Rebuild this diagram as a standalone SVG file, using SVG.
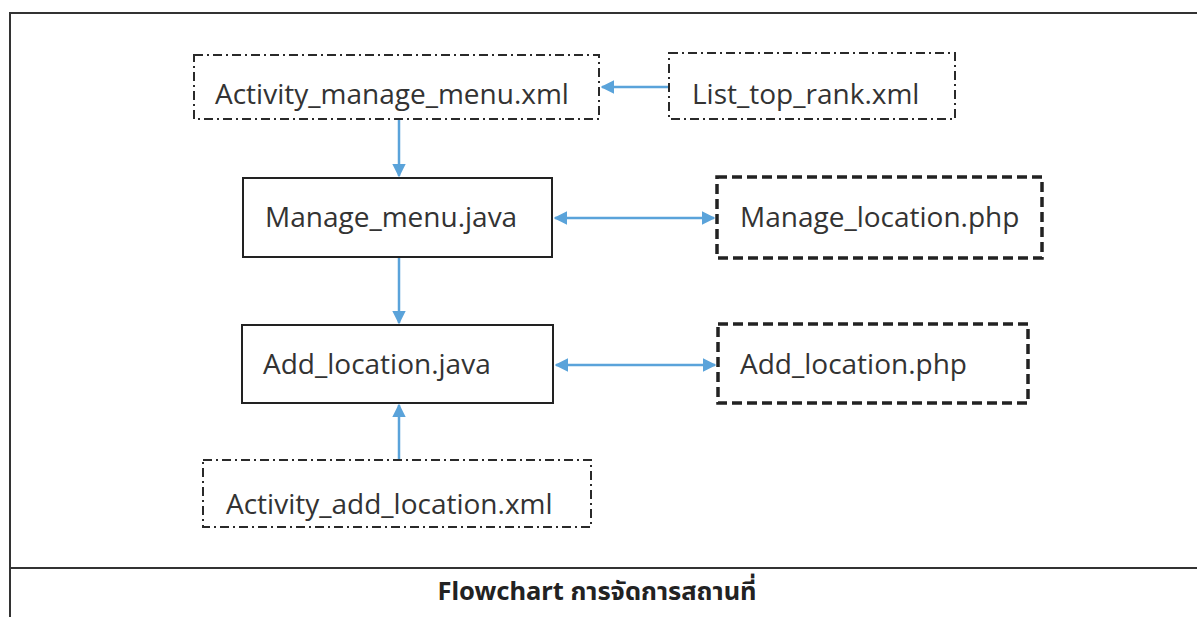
<svg xmlns="http://www.w3.org/2000/svg" width="1197" height="617" viewBox="0 0 1197 617">
<style>
.t{font-family:"Open Sans","Noto Sans",sans-serif;font-size:28px;fill:#333}
.dd{fill:none;stroke:#2a2a2a;stroke-width:2;stroke-dasharray:9 4 2 4}
.solid{fill:none;stroke:#222;stroke-width:2}
.dash{fill:none;stroke:#222;stroke-width:3.5;stroke-dasharray:10 5}
.c{stroke:#5aa3da;stroke-width:2.5;fill:none}
.title{font-family:"Noto Sans","Noto Sans Thai","Liberation Sans",sans-serif;font-size:25.5px;font-weight:bold;fill:#222}
</style>
<defs>
<marker id="ah" viewBox="0 0 10 10" refX="9" refY="5" markerWidth="5.5" markerHeight="5.5" orient="auto-start-reverse" markerUnits="strokeWidth">
<path d="M0,0 L10,5 L0,10 z" fill="#5aa3da"/>
</marker>
</defs>
<rect width="1197" height="617" fill="#fff"/>
<g id="frame">
<rect x="10" y="13" width="1200" height="620" fill="none" stroke="#333" stroke-width="2"/>
<line x1="10" y1="568" x2="1197" y2="568" stroke="#333" stroke-width="2"/>
</g>
<g id="connectors">
<line class="c" x1="669" y1="87" x2="602" y2="87" marker-end="url(#ah)"/>
<line class="c" x1="399" y1="120" x2="399" y2="176" marker-end="url(#ah)"/>
<line class="c" x1="555" y1="218" x2="714" y2="218" marker-start="url(#ah)" marker-end="url(#ah)"/>
<line class="c" x1="399" y1="258" x2="399" y2="323" marker-end="url(#ah)"/>
<line class="c" x1="556" y1="365" x2="715" y2="365" marker-start="url(#ah)" marker-end="url(#ah)"/>
<line class="c" x1="399" y1="460" x2="399" y2="405" marker-end="url(#ah)"/>
</g>
<g id="activity_manage_menu">
<rect class="dd" x="194" y="55" width="405" height="64"/>
<text class="t" x="215" y="104">Activity_manage_menu.xml</text>
</g>
<g id="list_top_rank">
<rect class="dd" x="669" y="53" width="286" height="66"/>
<text class="t" x="692" y="104">List_top_rank.xml</text>
</g>
<g id="manage_menu">
<rect class="solid" x="243" y="178" width="309" height="79"/>
<text class="t" x="265" y="227">Manage_menu.java</text>
</g>
<g id="manage_location">
<rect class="dash" x="717" y="177" width="325" height="81"/>
<text class="t" x="740" y="227">Manage_location.php</text>
</g>
<g id="add_location_java">
<rect class="solid" x="242" y="325" width="311" height="78"/>
<text class="t" x="263" y="374">Add_location.java</text>
</g>
<g id="add_location_php">
<rect class="dash" x="718" y="324" width="310" height="79"/>
<text class="t" x="740" y="374">Add_location.php</text>
</g>
<g id="activity_add_location">
<rect class="dd" x="203" y="460" width="388" height="67"/>
<text class="t" x="226" y="514">Activity_add_location.xml</text>
</g>
<g id="caption">
<text class="title" x="597" y="600" text-anchor="middle">Flowchart การจัดการสถานที่</text>
</g>
</svg>
